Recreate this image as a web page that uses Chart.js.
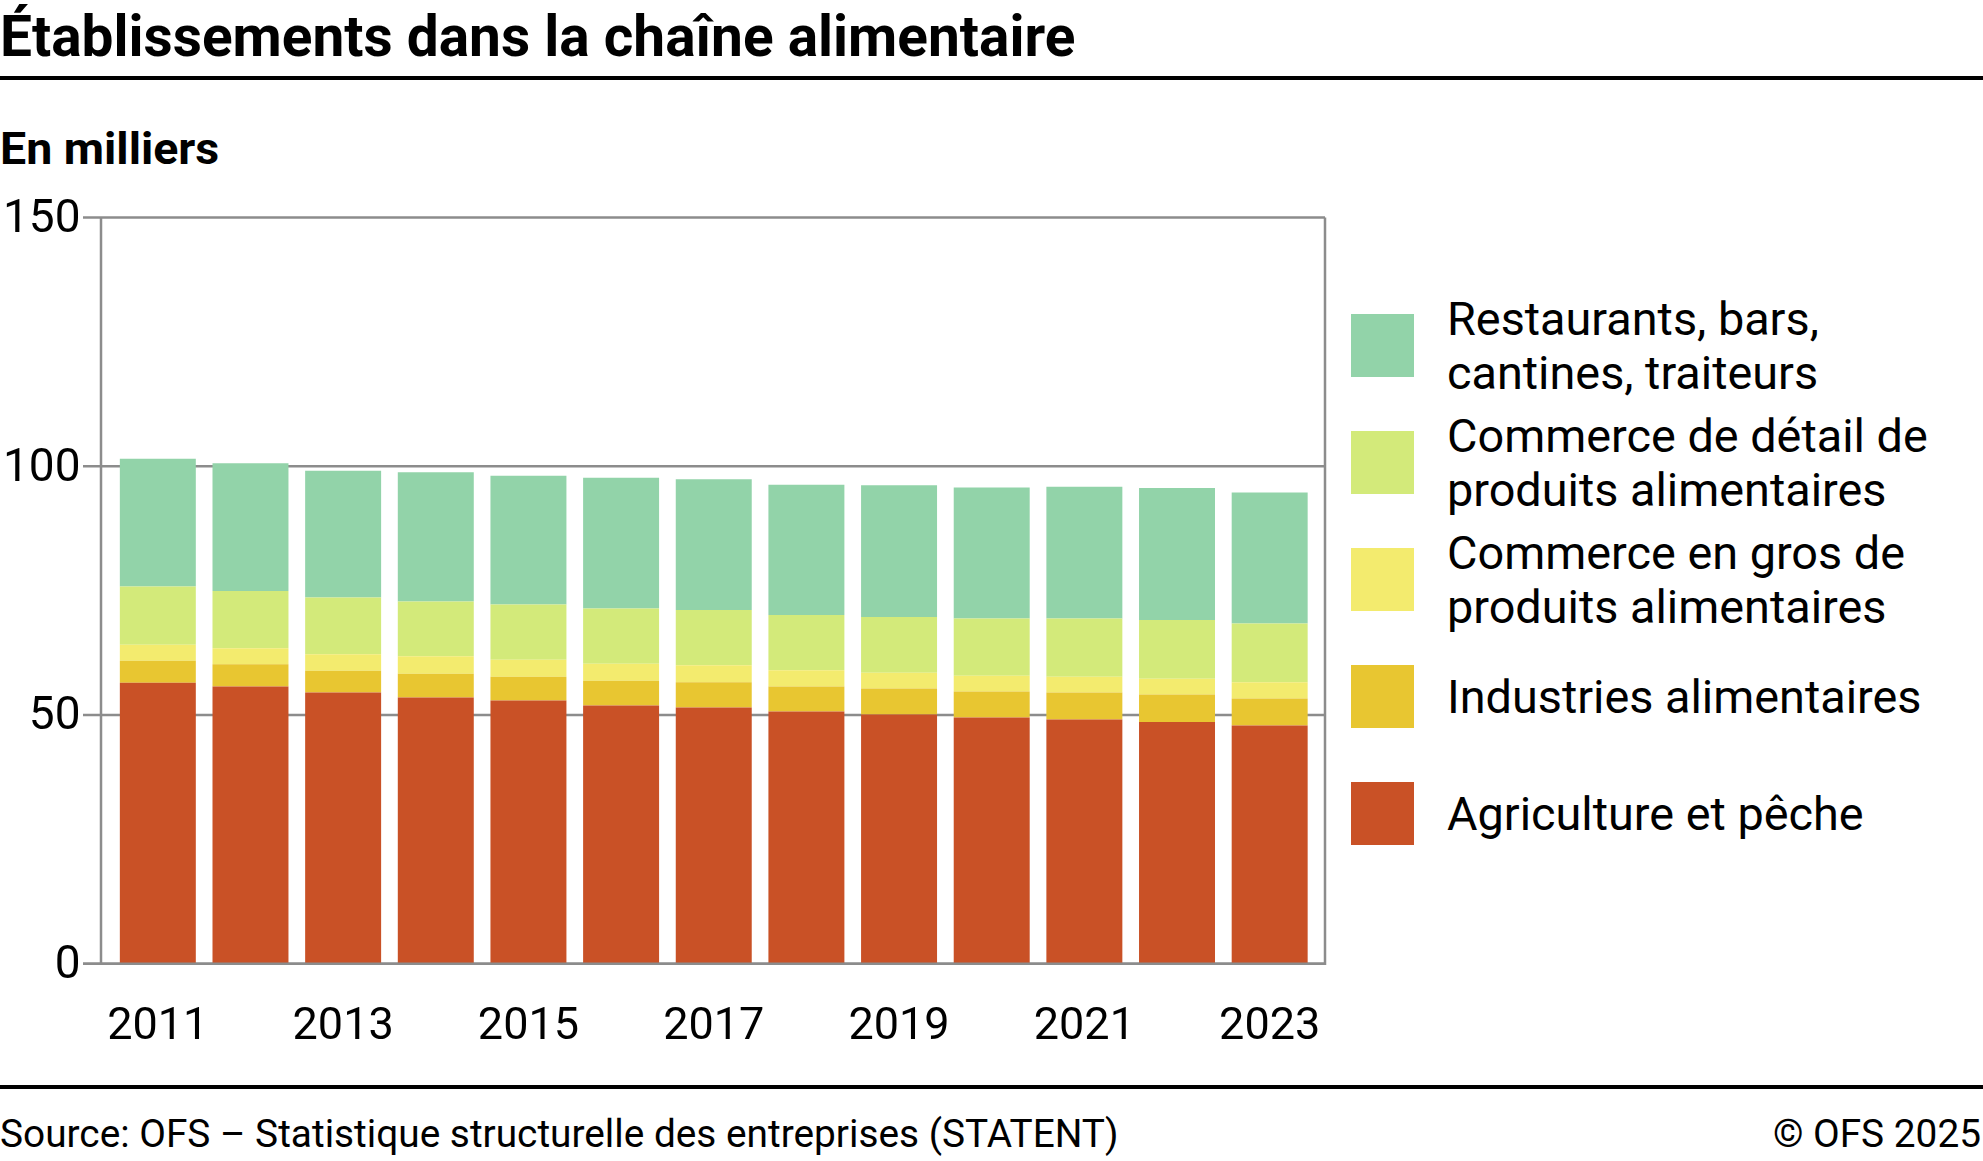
<!DOCTYPE html>
<html lang="fr">
<head>
<meta charset="utf-8">
<title>Établissements dans la chaîne alimentaire</title>
<script src="https://cdn.jsdelivr.net/npm/chart.js@4.4.1/dist/chart.umd.min.js"></script>
<style>
  html, body { margin: 0; padding: 0; background: #fff; }
  body { width: 1983px; height: 1161px; position: relative; overflow: hidden; font-family: Roboto, "Noto Sans", sans-serif; color: #000; }
  .titre { position: absolute; left: 0; top: 8px; font-weight: 700; font-size: 57px; line-height: 1; white-space: nowrap; transform-origin: 0 0; }
  .sous-titre { position: absolute; left: 0; top: 126px; font-weight: 700; font-size: 45px; line-height: 1; white-space: nowrap; transform-origin: 0 0; }
  .filet { position: absolute; left: 0; width: 1983px; height: 4px; background: #000; }
  #graphique { position: absolute; left: 0; top: 180px; }
  #legende { position: absolute; left: 1351px; top: 314px; }
  .item { display: flex; align-items: center; height: 63px; margin-bottom: 54px; }
  .case { width: 63px; height: 63px; flex: none; }
  .texte { margin-left: 33px; font-size: 46.8px; line-height: 54px; width: 520px; }
  .source { position: absolute; top: 1115px; font-size: 38.8px; line-height: 1; white-space: nowrap; }
</style>
</head>
<body>
<span class="titre" id="titre">Établissements dans la chaîne alimentaire</span>
<div class="filet" style="top:76px"></div>
<span class="sous-titre" id="sousTitre">En milliers</span>
<canvas id="graphique" width="1340" height="880"></canvas>
<div id="legende"></div>
<div class="filet" style="top:1085px"></div>
<span class="source" style="left:0">Source: OFS – Statistique structurelle des entreprises (STATENT)</span>
<span class="source" style="right:2px">© OFS 2025</span>
<script>
// Données (en milliers d'établissements)
const annees = ['2011', '2012', '2013', '2014', '2015', '2016', '2017', '2018', '2019', '2020', '2021', '2022', '2023'];
const agriculture = [56.5, 55.7, 54.5, 53.5, 52.9, 51.9, 51.5, 50.7, 50.1, 49.5, 49.1, 48.6, 47.9];
const industries = [4.4, 4.5, 4.4, 4.8, 4.8, 5.0, 5.1, 5.0, 5.2, 5.2, 5.4, 5.5, 5.4];
const commerceGros = [3.2, 3.2, 3.3, 3.5, 3.4, 3.4, 3.4, 3.3, 3.2, 3.2, 3.2, 3.2, 3.3];
const commerceDetail = [11.7, 11.5, 11.4, 11.0, 11.1, 11.1, 11.1, 11.1, 11.2, 11.5, 11.7, 11.8, 11.8];
const restaurants = [25.7, 25.7, 25.5, 26.0, 25.9, 26.3, 26.3, 26.2, 26.5, 26.3, 26.5, 26.5, 26.3];

const datasets = [
    { label: 'Agriculture et pêche', data: agriculture, backgroundColor: '#c95126' },
    { label: 'Industries alimentaires', data: industries, backgroundColor: '#e8c631' },
    { label: 'Commerce en gros de produits alimentaires', data: commerceGros, backgroundColor: '#f3eb6e' },
    { label: 'Commerce de détail de produits alimentaires', data: commerceDetail, backgroundColor: '#d3ea7a' },
    { label: 'Restaurants, bars, cantines, traiteurs', data: restaurants, backgroundColor: '#92d3a9' }
];

// Titres en police étroite : on resserre Roboto gras à la largeur voulue
function resserrer(id, largeur) {
    const el = document.getElementById(id);
    el.style.display = 'inline-block';
    el.style.transform = `scaleX(${largeur / el.offsetWidth})`;
}
resserrer('titre', 1075);
resserrer('sousTitre', 219);

// Cadre gris et lignes horizontales, un peu plus larges que la zone des barres
const GRIS = '#8c8c8c';
const cadre = {
    id: 'cadre',
    beforeDatasetsDraw(chart) {
        const { ctx, chartArea, scales: { y } } = chart;
        const gauche = chartArea.left - 10.5;
        const droite = chartArea.right + 9;
        ctx.save();
        ctx.strokeStyle = GRIS;
        ctx.lineWidth = 2.5;
        y.ticks.forEach(t => {
            const py = y.getPixelForValue(t.value);
            ctx.beginPath();
            ctx.moveTo(gauche - 18, py);
            ctx.lineTo(droite, py);
            ctx.stroke();
        });
        ctx.restore();
    },
    afterDatasetsDraw(chart) {
        const { ctx, chartArea } = chart;
        const gauche = chartArea.left - 10.5;
        const droite = chartArea.right + 9;
        ctx.save();
        ctx.strokeStyle = GRIS;
        ctx.lineWidth = 2.5;
        ctx.beginPath();
        ctx.moveTo(gauche - 18, chartArea.bottom);
        ctx.lineTo(droite, chartArea.bottom);
        ctx.lineTo(droite, chartArea.top);
        ctx.moveTo(gauche, chartArea.top);
        ctx.lineTo(gauche, chartArea.bottom);
        ctx.stroke();
        ctx.restore();
    }
};

new Chart(document.getElementById('graphique'), {
    type: 'bar',
    data: { labels: annees, datasets: datasets },
    options: {
        responsive: false,
        animation: false,
        layout: { padding: { top: 37.5, right: 24, left: 0, bottom: 0 } },
        datasets: { bar: { categoryPercentage: 1, barPercentage: 0.82, borderWidth: 0 } },
        plugins: { legend: { display: false }, tooltip: { enabled: false } },
        scales: {
            x: {
                stacked: true,
                offset: true,
                grid: { display: false, drawTicks: false },
                border: { display: false },
                ticks: {
                    autoSkip: false,
                    maxRotation: 0,
                    padding: 37,
                    color: '#000',
                    font: { family: 'Roboto', size: 45 },
                    callback(value, index) { return index % 2 === 0 ? this.getLabelForValue(value) : ''; }
                },
                afterFit(s) {
                    s.height = 96.3;
                    s.paddingLeft = 0;
                    s.paddingRight = 0;
                }
            },
            y: {
                stacked: true,
                min: 0,
                max: 150,
                grid: { display: false, drawTicks: false },
                border: { display: false },
                ticks: { stepSize: 50, padding: 31, labelOffset: 3, color: '#000', font: { family: 'Roboto', size: 46 } },
                afterFit(s) {
                    s.width = 111.5;
                    s.paddingTop = 0;
                    s.paddingBottom = 0;
                }
            }
        }
    },
    plugins: [cadre]
});

// Légende à droite, dans l'ordre inverse de l'empilement
const legende = document.getElementById('legende');
[...datasets].reverse().forEach(ds => {
    const item = document.createElement('div');
    item.className = 'item';
    item.innerHTML = `<div class="case" style="background:${ds.backgroundColor}"></div><div class="texte">${ds.label}</div>`;
    legende.appendChild(item);
});
</script>
</body>
</html>
